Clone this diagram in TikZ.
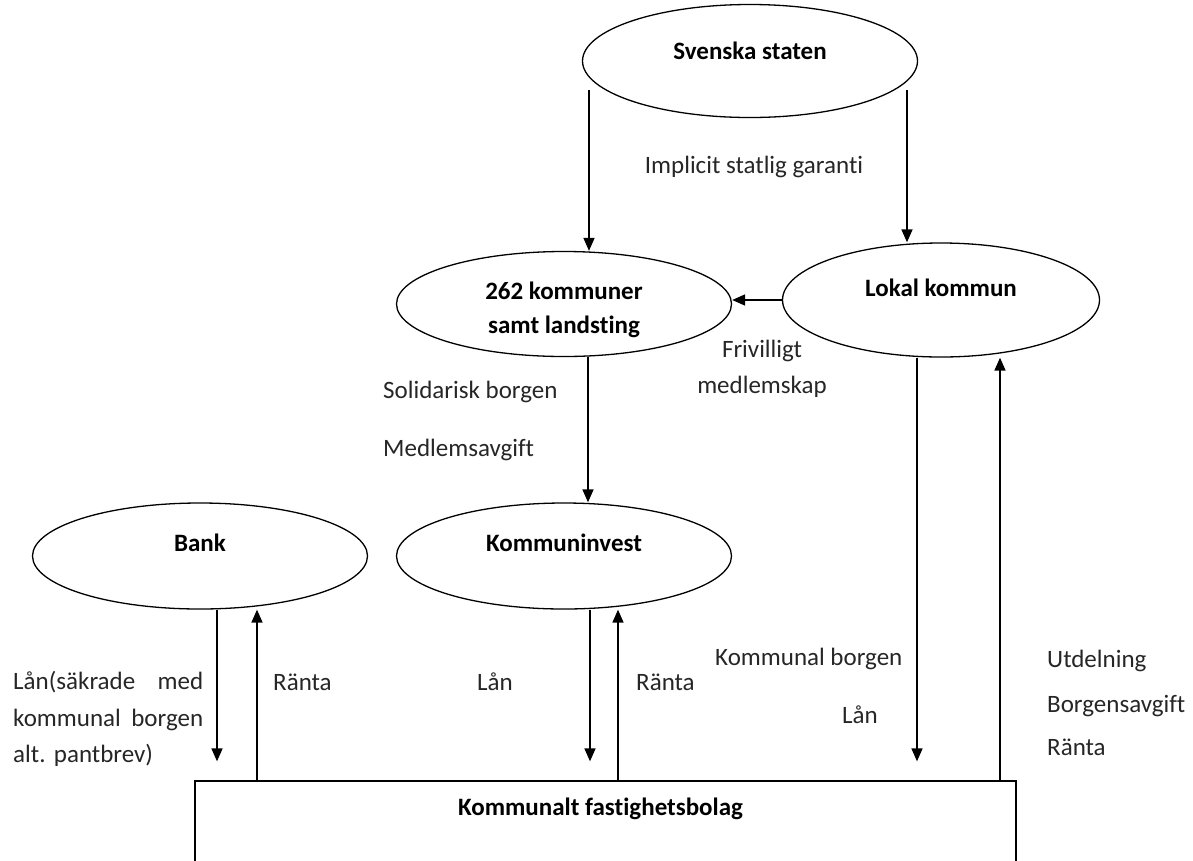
\documentclass[tikz,border=0pt]{standalone}
\usepackage{fontspec}
\setmainfont{Carlito}[Ligatures=NoCommon]
\usetikzlibrary{shapes,arrows.meta,calc}

\begin{document}
\begin{tikzpicture}[x=1pt,y=-1pt]
\tikzstyle{every node}=[font=\fontsize{25}{36.5}\selectfont, inner sep=0pt]
\tikzstyle{org}=[ellipse, draw, line width=1.3pt]
\tikzstyle{orgname}=[font=\fontsize{25}{34}\selectfont\bfseries, align=center]
\tikzstyle{lbl}=[anchor=west, text=black!85]
\tikzstyle{arr}=[-{Triangle[length=13pt,width=11pt]}, line width=1.6pt]
\useasboundingbox (0,0) rectangle (1193,860);
\clip (0,0) rectangle (1193,860);

\node[org, minimum width=335pt, minimum height=113pt] (stat) at (750,61) {};
\node[orgname] (stat-t) at ([yshift=10pt]stat.center) {Svenska staten};
\node[org, minimum width=335pt, minimum height=105pt] (kom) at (564,304) {};
\node[orgname] (kom-t) at ([yshift=-6pt]kom.center) {262 kommuner\\samt landsting};
\node[org, minimum width=317pt, minimum height=114pt] (lok) at (941,300) {};
\node[orgname] (lok-t) at ([yshift=12pt]lok.center) {Lokal kommun};
\node[org, minimum width=335pt, minimum height=106pt] (bank) at (200,556) {};
\node[orgname] (bank-t) at ([yshift=13pt]bank.center) {Bank};
\node[org, minimum width=335pt, minimum height=106pt] (inv) at (564,556) {};
\node[orgname] (inv-t) at ([yshift=13pt]inv.center) {Kommuninvest};
\node[draw, line width=1.3pt, minimum width=821pt, minimum height=120pt] (bolag) at (605.5,841) {};
\node[orgname] (bolag-t) at ([xshift=-5pt,yshift=-28pt]bolag.north) {Kommunalt fastighetsbolag};

\draw[arr] ([xshift=-161pt,yshift=-29pt]stat.center) -- ([xshift=25pt]kom.north);
\draw[arr] ([xshift=157pt,yshift=-29pt]stat.center) -- ([xshift=-34pt]lok.north);
\draw[arr] (lok.west) -- (lok.west -| kom.east);
\draw[arr] ([xshift=24pt]kom.south) -- ([xshift=24pt]inv.north);

\draw[arr, shorten >=19pt] ([xshift=17pt]bank.south) -- ($(bank.south |- bolag.north)+(17,0)$);
\draw[arr] ($(bank.south |- bolag.north)+(57,0)$) -- ([xshift=57pt]bank.south);
\draw[arr, shorten >=19pt] ([xshift=26pt]inv.south) -- ($(inv.south |- bolag.north)+(26,0)$);
\draw[arr] ($(inv.south |- bolag.north)+(54,0)$) -- ([xshift=54pt]inv.south);
\draw[arr, shorten >=19pt] ([xshift=-24pt]lok.south) -- ($(lok.south |- bolag.north)+(-24,0)$);
\draw[arr] ($(lok.south |- bolag.north)+(59,0)$) -- ([xshift=59pt]lok.south);

\node[lbl, anchor=center] (garanti) at (754,167) {Implicit statlig garanti};
\node[lbl, anchor=center, align=center] (frivilligt) at (762,369) {Frivilligt\\medlemskap};
\node[lbl] (solidarisk) at (383,392) {Solidarisk borgen};
\node[lbl] (avgift) at (383,450) {Medlemsavgift};
\node[lbl, text width=190pt, align=left] (banklan) at (13,719) {L\aa n(s\"akrade\hfill med\\kommunal\hfill borgen\\alt.\ pantbrev)};
\node[lbl] (bankranta) at (273,682) {R\"anta};
\node[lbl] (invlan) at (477,682) {L\aa n};
\node[lbl] (invranta) at (636,682) {R\"anta};
\node[lbl] (borgen) at (715,659) {Kommunal borgen};
\node[lbl] (loklan) at (842,715) {L\aa n};
\node[lbl] (utdelning) at (1047,661) {Utdelning};
\node[lbl] (borgavgift) at (1047,706) {Borgensavgift};
\node[lbl] (lokranta) at (1047,747) {R\"anta};
\end{tikzpicture}
\end{document}
